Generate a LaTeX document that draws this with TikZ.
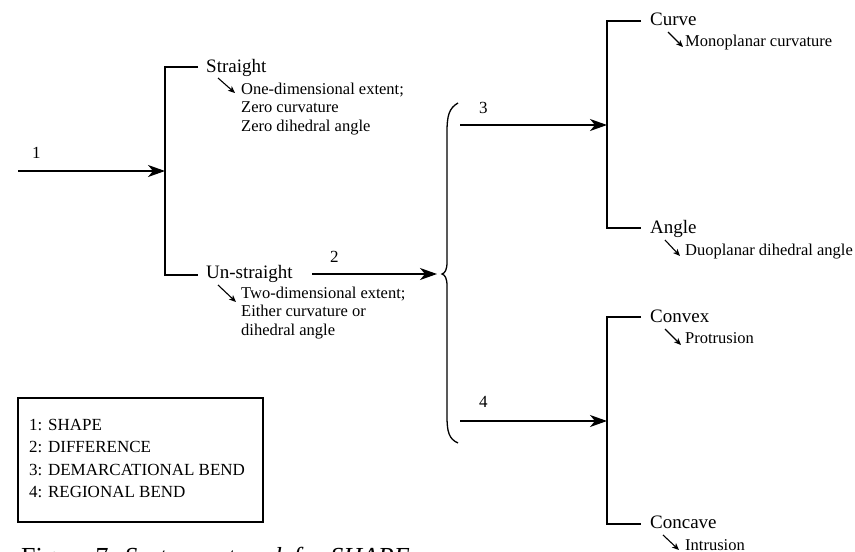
\documentclass[tikz,border=0pt]{standalone}
\usepackage{fontspec}
\setmainfont{Liberation Serif}
\usetikzlibrary{arrows.meta}
\tikzset{
  lbl/.style={anchor=base west, inner sep=0pt, font=\fontsize{19}{22}\selectfont},
  desc/.style={anchor=base west, inner sep=0pt, font=\fontsize{16.5}{18.5}\selectfont},
  num/.style={anchor=base west, inner sep=0pt, font=\fontsize{17}{20}\selectfont},
  legendtext/.style={anchor=base west, inner sep=0pt, font=\fontsize{17}{22.5}\selectfont},
  mainarrow/.style={line width=1.4pt, -{Stealth[length=17pt,width=12pt,inset=5pt]}},
  brk/.style={line width=1.4pt},
  pointer/.style={line width=1.1pt, -{Stealth[length=7pt,width=6pt,inset=2pt]}},
}
\begin{document}
\begin{tikzpicture}[x=1pt,y=-1pt]
\useasboundingbox (0,0) rectangle (855,552);
\clip (0,0) rectangle (855,552);

% ---- level 1
\coordinate (s1) at (18,171);
\coordinate (j1) at (165,171);
\coordinate (j1t) at (165,67);
\coordinate (j1b) at (165,275);
\coordinate (e1t) at (198,67);
\coordinate (e1b) at (198,275);
\node[num] (n1) at (32,158) {1};
\draw[mainarrow] (s1) -- (j1);
\draw[brk] (e1t) -- (j1t) -- (j1b) -- (e1b);

\node[lbl] (straight) at (206,72) {Straight};
\node[lbl] (unstraight) at (206,278) {Un-straight};

\coordinate (p1a) at (218,78); \coordinate (p1b) at (235,93);
\draw[pointer] (p1a) -- (p1b);
\node[desc] (d1a) at (241,94) {One-dimensional extent;};
\node[desc] (d1b) at (241,112.5) {Zero curvature};
\node[desc] (d1c) at (241,131) {Zero dihedral angle};
\coordinate (p2a) at (218,285); \coordinate (p2b) at (236,302);
\draw[pointer] (p2a) -- (p2b);
\node[desc] (d2a) at (241,298) {Two-dimensional extent;};
\node[desc] (d2b) at (241,316.5) {Either curvature or};
\node[desc] (d2c) at (241,335) {dihedral angle};

% ---- level 2
\coordinate (s2) at (312,274);
\coordinate (tip) at (442,274);
\coordinate (e2) at (437,274);
\node[num] (n2) at (330,262) {2};
\draw[mainarrow] (s2) -- (e2);
\draw[brk, line width=1.3pt] (458,103) .. controls (449,108) and (447,116) .. (447,132)
  -- (447,262) .. controls (447,270) and (445,273) .. (tip)
  .. controls (445,275) and (447,278) .. (447,286)
  -- (447,416) .. controls (447,432) and (449,439) .. (458,443);

% ---- level 3 (upper)
\coordinate (s3) at (460,125);
\coordinate (j3) at (607,125);
\coordinate (j3t) at (607,21);
\coordinate (j3b) at (607,228);
\coordinate (e3t) at (641,21);
\coordinate (e3b) at (641,228);
\node[num] (n3) at (479,113) {3};
\draw[mainarrow] (s3) -- (j3);
\draw[brk] (e3t) -- (j3t) -- (j3b) -- (e3b);
\node[lbl] (curve) at (650,25) {Curve};
\node[lbl] (angle) at (650,233) {Angle};
\coordinate (p3a) at (668,32); \coordinate (p3b) at (683,47);
\draw[pointer] (p3a) -- (p3b);
\node[desc] (d3) at (685,46) {Monoplanar curvature};
\coordinate (p4a) at (665,240); \coordinate (p4b) at (680,256);
\draw[pointer] (p4a) -- (p4b);
\node[desc] (d4) at (685,255) {Duoplanar dihedral angle};

% ---- level 3 (lower)
\coordinate (s4) at (460,421);
\coordinate (j4) at (607,421);
\coordinate (j4t) at (607,317);
\coordinate (j4b) at (607,524);
\coordinate (e4t) at (641,317);
\coordinate (e4b) at (641,524);
\node[num] (n4) at (479,407) {4};
\draw[mainarrow] (s4) -- (j4);
\draw[brk] (e4t) -- (j4t) -- (j4b) -- (e4b);
\node[lbl] (convex) at (650,322) {Convex};
\node[lbl] (concave) at (650,528) {Concave};
\coordinate (p5a) at (665,329); \coordinate (p5b) at (681,345);
\draw[pointer] (p5a) -- (p5b);
\node[desc] (d5) at (685,343) {Protrusion};
\coordinate (p6a) at (663,535); \coordinate (p6b) at (679,550);
\draw[pointer] (p6a) -- (p6b);
\node[desc] (d6) at (685,550) {Intrusion};

% ---- legend
\draw[line width=1.2pt] (18,398) rectangle (263,522);
\node[legendtext] (l1) at (29,430) {1: SHAPE};
\node[legendtext] (l2) at (29,452.5) {2: DIFFERENCE};
\node[legendtext] (l3) at (29,475) {3: DEMARCATIONAL BEND};
\node[legendtext] (l4) at (29,497.5) {4: REGIONAL BEND};

% ---- caption (cut off at the bottom edge)
\node[anchor=base west, inner sep=0pt, font=\fontsize{26}{30}\selectfont] (caption) at (21,565)
  {Figure 7: \textit{System network for SHAPE}};
\end{tikzpicture}
\end{document}
